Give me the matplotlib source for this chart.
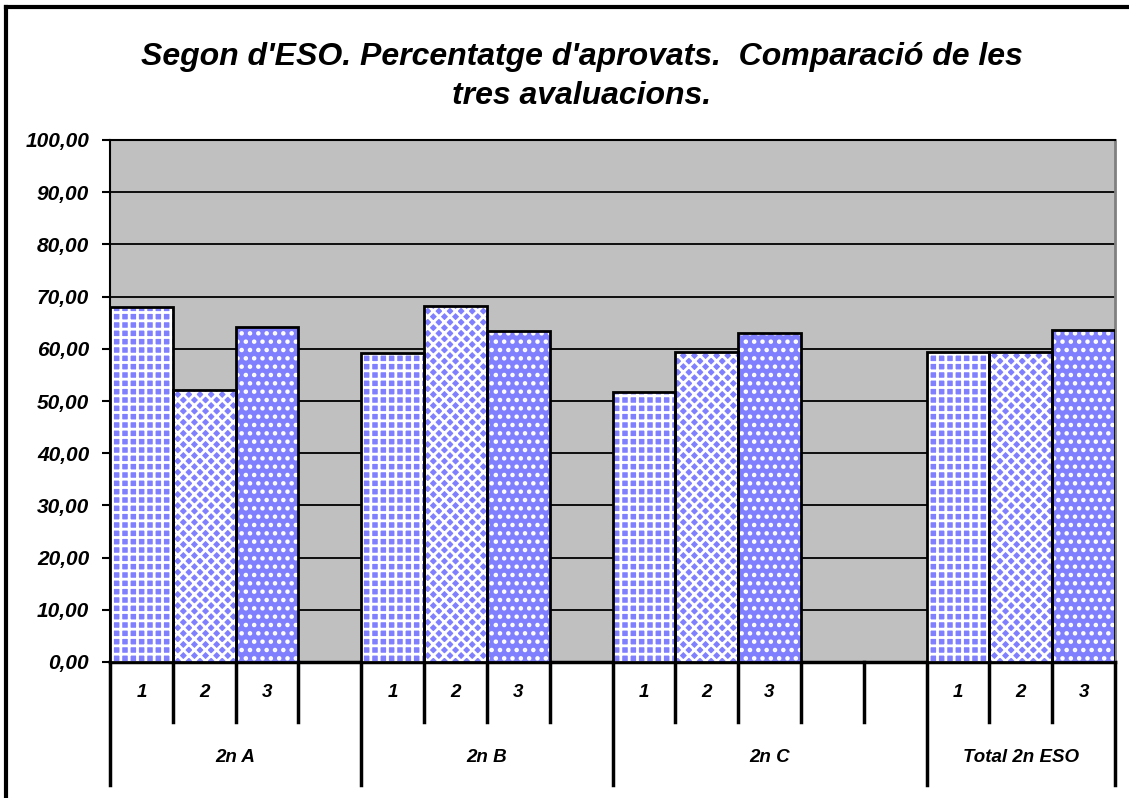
import matplotlib.pyplot as plt
from matplotlib.lines import Line2D
from matplotlib.transforms import blended_transform_factory

# data
groups = ['2n A', '2n B', '2n C', 'Total 2n ESO']
group_start = [0, 4, 8, 13]
group_end = [4, 8, 13, 16]
aval_1 = [68.0, 59.2, 51.8, 59.4]
aval_2 = [52.1, 68.2, 59.4, 59.4]
aval_3 = [64.2, 63.5, 63.1, 63.6]
sub_labels = ['1', '2', '3']
n_slots = 16

blue = '#8080ff'
plt.rcParams['font.family'] = 'Liberation Sans'
plt.rcParams['hatch.linewidth'] = 2.0

fig = plt.figure(figsize=(11.29, 7.98), dpi=100)
ax = fig.add_axes([110/1129, 1 - 662/798, 1005/1129, 522/798])
ax.set_facecolor('#c0c0c0')

x1 = [s + 0.5 for s in group_start]
x2 = [s + 1.5 for s in group_start]
x3 = [s + 2.5 for s in group_start]

# fill with pattern, then outline on top
ax.bar(x1, aval_1, width=1, color=blue, edgecolor='white', hatch='++', lw=0, zorder=3)
ax.bar(x2, aval_2, width=1, color=blue, edgecolor='white', hatch='xxx', lw=0, zorder=3)
ax.bar(x3, aval_3, width=1, color=blue, edgecolor='white', hatch='..', lw=0, zorder=3)
for xs, vals in [(x1, aval_1), (x2, aval_2), (x3, aval_3)]:
    ax.bar(xs, vals, width=1, fill=False, edgecolor='black', lw=2, zorder=4)

ax.set_xlim(0, n_slots)
ax.set_ylim(0, 100)
ax.set_yticks(range(0, 101, 10))
ax.set_yticklabels([f'{v},00' for v in range(0, 101, 10)])
for lab in ax.get_yticklabels():
    lab.set_fontweight('bold')
    lab.set_fontstyle('italic')
    lab.set_fontsize(15)
ax.tick_params(axis='y', length=6, width=1.5, pad=9, direction='out')
ax.set_xticks([])
ax.yaxis.grid(True, color='black', lw=1.3, zorder=1)
ax.set_axisbelow(True)

for side in ['left', 'top']:
    ax.spines[side].set_linewidth(1.5)
ax.spines['bottom'].set_linewidth(2.5)
ax.spines['right'].set_color('#808080')
ax.spines['right'].set_linewidth(2)

# multi-level category axis below the plot
tr = blended_transform_factory(ax.transData, ax.transAxes)
row1 = -0.115
row2 = -0.236
for k in range(n_slots + 1):
    bottom = row2 if (k in group_start or k == n_slots) else row1
    ax.add_line(Line2D([k, k], [0, bottom], transform=tr, color='black',
                       lw=2.5, clip_on=False))
for g, s in enumerate(group_start):
    for j, lab in enumerate(sub_labels):
        ax.text(s + j + 0.5, -0.058, lab, transform=tr, ha='center', va='center',
                fontsize=13.5, fontweight='bold', fontstyle='italic')
    ax.text((s + group_end[g]) / 2, -0.182, groups[g], transform=tr,
            ha='center', va='center', fontsize=13.5, fontweight='bold',
            fontstyle='italic')

fig.text(582/1129, 1 - 57/798, "Segon d'ESO. Percentatge d'aprovats.  Comparació de les",
         ha='center', va='center', fontsize=23, fontweight='bold', fontstyle='italic')
fig.text(582/1129, 1 - 96/798, 'tres avaluacions.',
         ha='center', va='center', fontsize=23, fontweight='bold', fontstyle='italic')

# outer chart frame (left and top edges visible)
fig.add_artist(Line2D([6/1129, 6/1129], [0, 1 - 7/798], color='black', lw=3))
fig.add_artist(Line2D([6/1129, 1], [1 - 7/798, 1 - 7/798], color='black', lw=3))

fig.savefig('out.png', dpi=100)
